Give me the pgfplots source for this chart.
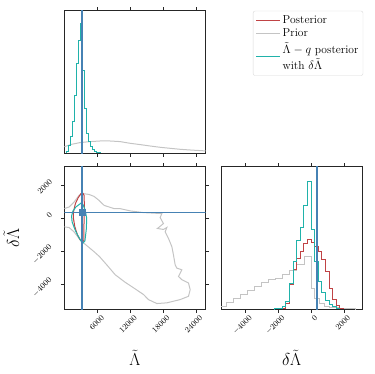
\documentclass[border=0pt]{standalone}
\usepackage{pgfplots}
\pgfplotsset{compat=1.18}

\definecolor{cpost}{HTML}{C04345}
\definecolor{cprior}{HTML}{C4C4C4}
\definecolor{cteal}{HTML}{20B2AA}
\definecolor{ctruth}{HTML}{4682B4}

\newcommand{\labfont}{\fontsize{16}{19}\selectfont}

\pgfplotsset{
  cornerax/.style={
    scale only axis, width=141.4pt, height=142.5pt,
    axis line style={line width=0.7pt, black!85},
    tick align=outside, major tick length=3.5pt,
    tick style={black!85, line width=0.6pt},
    tick label style={font=\fontsize{8}{9}\selectfont},
    scaled ticks=false,
    /pgf/number format/1000 sep={},
  },
  histline/.style={const plot mark left, mark=none, line width=1pt},
}

\begin{document}
\begin{tikzpicture}
\useasboundingbox (0,0) rectangle (374pt,374pt);

% top: marginal of Lambda
\begin{axis}[cornerax, at={(64.3pt,220.7pt)}, anchor=south west,
  xmin=-130, xmax=25780, ymin=0, ymax=142.5,
  xtick={6000,12000,18000,24000}, xticklabels={}, ytick=\empty,
  legend style={at={(1.334,1.0)}, anchor=north west, draw=black!15,
    rounded corners=2pt, font=\fontsize{11.5}{13.5}\selectfont,
    cells={anchor=west}, inner sep=2.5pt, row sep=0pt},
  legend image post style={xscale=1.4},
]
\addlegendimage{color=cpost, line width=1.2pt}
\addlegendentry{Posterior}
\addlegendimage{color=cprior, line width=1.2pt}
\addlegendentry{Prior}
\addlegendimage{color=cteal, line width=1.2pt}
\addlegendentry{\shortstack[l]{$\tilde{\Lambda}-q$ posterior\\with $\delta\tilde{\Lambda}$}}
\addplot[histline, cpost, forget plot] coordinates {
 (250,0) (250,2) (620,8) (990,17) (1360,32) (1730,58) (2100,90) (2470,113)
 (2840,130) (3210,83) (3580,45) (3950,20) (4320,12) (4690,7) (5060,4)
 (5430,2) (5800,1) (6540,0)};
\addplot[mark=none, cprior, line width=1pt, forget plot] coordinates {
 (-300,6.3) (1229,9) (2752,10.7) (4587,11.7) (6422,12.3) (8257,12.3)
 (10092,11.7) (11927,10) (13762,8.7) (15597,7.3) (17432,6) (19267,5)
 (21102,4) (22937,3.3) (24772,2.7) (26000,2.3)};
\addplot[histline, cteal, forget plot] coordinates {
 (250,0) (250,2) (620,8) (990,17) (1360,32) (1730,58) (2100,90) (2470,113)
 (2840,130) (3210,83) (3580,45) (3950,20) (4320,12) (4690,7) (5060,4)
 (5430,2) (5800,1) (6540,0)};
\addplot[ctruth, mark=none, line width=1.2pt, forget plot] coordinates {(3120,-10) (3120,200)};
\end{axis}

% bottom left: 2D
\begin{axis}[cornerax, at={(64.3pt,64.7pt)}, anchor=south west,
  xmin=-130, xmax=25780, ymin=-5490, ymax=3130,
  xtick={6000,12000,18000,24000}, ytick={-4000,-2000,0,2000},
  xticklabel style={rotate=45, anchor=north east, xshift=4.5pt},
  yticklabel style={rotate=45, anchor=south east, yshift=4.5pt},
  every axis x label/.style={at={(axis description cs:0.5,-0.342)}, anchor=center, font=\labfont},
  every axis y label/.style={at={(axis description cs:-0.375,0.5)}, rotate=90, anchor=center, font=\labfont},
  xlabel={$\tilde{\Lambda}$}, ylabel={$\delta\tilde{\Lambda}$},
]
\addplot[mark=none, cprior, line width=1pt] coordinates {
 (-600,580) (-184,600) (733,696) (1651,996) (2568,1398) (3486,1500) (4404,1458)
 (5321,1338) (6239,1098) (7156,798) (8991,600) (10092,600) (12056,456)
 (14368,360) (17744,300) (17432,60) (18038,-300) (17310,-504) (16937,-600)
 (18038,-660) (18662,-540) (18350,-804) (18955,-1200) (19580,-1704)
 (19873,-2202) (20185,-2802) (20497,-3000) (21414,-3102) (20790,-3504)
 (21414,-3702) (22625,-3900) (22937,-4302) (22625,-4704) (21102,-4902)
 (18662,-5100) (16827,-5142) (15285,-4902) (14400,-4600) (12600,-4200)
 (11000,-3850) (9200,-3400) (7651,-2802) (6330,-2304) (5321,-2004)
 (3486,-1500) (2568,-1200) (1651,-804) (733,-540) (-184,-504) (-600,-500)};
\addplot[mark=none, cpost, line width=1pt] coordinates {
 (3250,1550) (3500,1400) (3550,700) (3500,0) (3450,-800) (3480,-1300)
 (3250,-1430) (2800,-1300) (2300,-1000) (1800,-500) (1550,0) (1550,400)
 (1900,900) (2400,1250) (2900,1500) (3250,1550)};
\addplot[mark=none, cteal, line width=1pt] coordinates {
 (3000,950) (3300,850) (3700,500) (3980,0) (3900,-650) (3650,-1350)
 (3300,-1480) (2900,-1350) (2400,-1050) (1800,-650) (1300,-200) (1200,150)
 (1450,450) (2000,700) (2600,850) (3000,950)};
\addplot[ctruth, mark=none, line width=1.2pt] coordinates {(3120,-6000) (3120,4000)};
\addplot[ctruth, mark=none, line width=1.2pt] coordinates {(-1000,365) (27000,365)};
\addplot[ctruth, only marks, mark=square*, mark size=2.85pt] coordinates {(3120,365)};
\end{axis}

% bottom right: marginal of delta Lambda
\begin{axis}[cornerax, at={(221pt,64.7pt)}, anchor=south west,
  xmin=-5490, xmax=3130, ymin=0, ymax=142.5,
  xtick={-4000,-2000,0,2000}, ytick=\empty,
  xticklabel style={rotate=45, anchor=north east, xshift=4.5pt},
  every axis x label/.style={at={(axis description cs:0.5,-0.342)}, anchor=center, font=\labfont},
  xlabel={$\delta\tilde{\Lambda}$},
]
\addplot[histline, cprior] coordinates {
 (-5590,0) (-5590,3) (-5160,7) (-4730,11) (-4300,15) (-3870,19) (-3440,23)
 (-3010,27) (-2580,30) (-2150,31) (-1720,35) (-1290,39) (-860,45) (-430,53)
 (0,21) (220,11) (500,6) (800,3) (1100,1.5) (1700,0.7) (2700,0)};
\addplot[histline, cpost] coordinates {
 (-1760,0) (-1760,1) (-1540,6) (-1320,25) (-1100,40) (-880,51) (-660,58)
 (-440,66) (-220,70) (0,67) (220,63) (440,58) (660,50) (880,38) (1100,21)
 (1320,10) (1540,4) (1760,1) (1980,0)};
\addplot[histline, cteal] coordinates {
 (-2200,0) (-2200,0.5) (-1980,1) (-1760,2.5) (-1540,8) (-1320,26) (-1100,48)
 (-880,69) (-660,82) (-440,104) (-220,128) (0,80) (220,48) (440,28) (660,17)
 (880,9) (1100,5) (1320,3) (1540,1) (1760,0)};
\addplot[ctruth, mark=none, line width=1.2pt] coordinates {(365,-10) (365,200)};
\end{axis}
\end{tikzpicture}
\end{document}
